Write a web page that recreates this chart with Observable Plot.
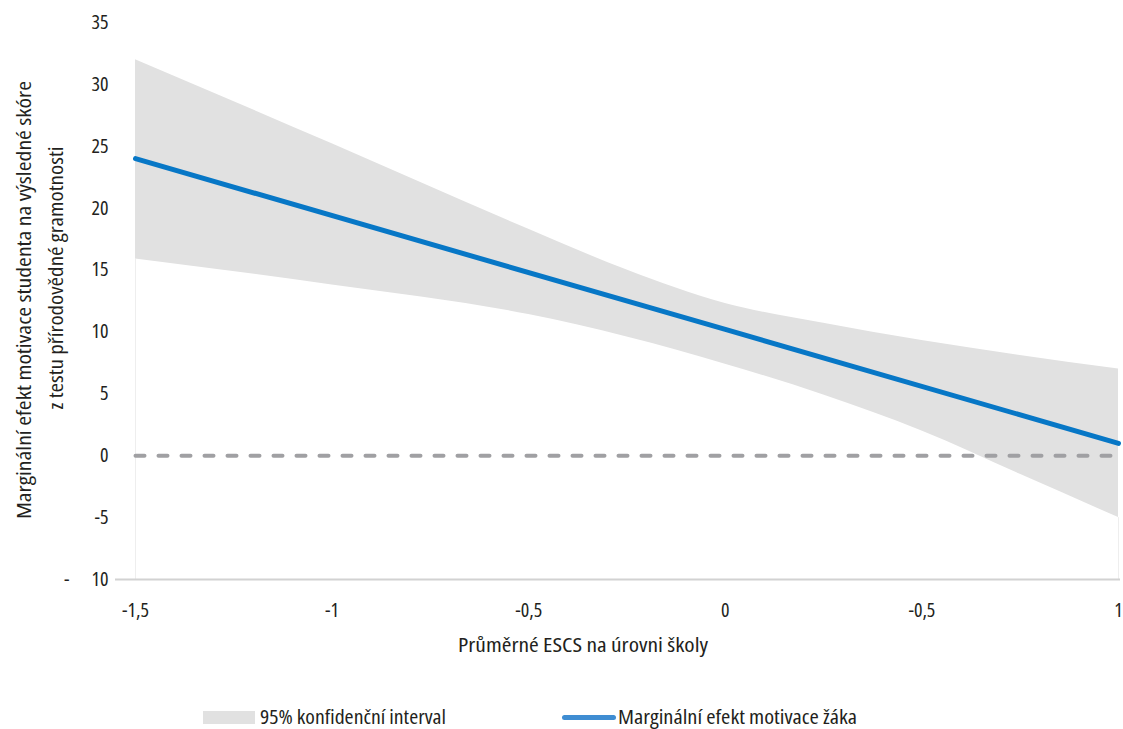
<!DOCTYPE html>
<html>
<head>
<meta charset="utf-8">
<script src="https://cdn.jsdelivr.net/npm/d3@7"></script>
<script src="https://cdn.jsdelivr.net/npm/@observablehq/plot@0.6"></script>
<style>
  html, body { margin: 0; padding: 0; background: #fff; }
  body { width: 1123px; height: 729px; overflow: hidden;
         font-family: "Open Sans", "Roboto", sans-serif; font-stretch: 75%; color: #231f20; }
  #legend { position: relative; height: 39px; font-size: 19px; }
  .item { position: absolute; top: 16px; display: flex; align-items: center; height: 22px; white-space: nowrap; }
  .item span { display: inline-block; transform-origin: 0 50%; }
  .sw { width: 52px; height: 13px; background: #e1e1e1; margin-right: 5px; flex: none; }
  .ln { width: 54px; height: 5px; border-radius: 3px; background: #3f8dd2; margin-right: 2px; flex: none; }
</style>
</head>
<body>
<div id="chart"></div>
<div id="legend">
  <div class="item" style="left:203px"><div class="sw"></div><span id="lg1">95% konfidenční interval</span></div>
  <div class="item" style="left:562px"><div class="ln"></div><span id="lg2">Marginální efekt motivace žáka</span></div>
</div>
<script>
// ---- data ----
const escs = [-1.5, -1, -0.5, -0.25, 0, 0.25, 0.5, 0.75, 1];
const ciUpper = [32.0, 25.2, 18.3, 15.0, 12.3, 10.7, 9.3, 8.1, 7.0];
const ciLower = [15.9, 13.8, 11.4, 9.6, 7.4, 4.9, 2.0, -1.5, -5.0];
const effectX = [-1.5, 0, 1];
const effect = [24.0, 10.2, 1.0];
const zeroX = [-1.5, 1];
const zeroY = [0, 0];
const yTicks = [35, 30, 25, 20, 15, 10, 5, 0, -5, -10];
const yTickLabels = ["35", "30", "25", "20", "15", "10", "5", "0", "-5", "10"];
const xTicks = [-1.5, -1, -0.5, 0, 0.5, 1];
const xTickLabels = ["-1,5", "-1", "-0,5", "0", "-0,5", "1"];
const yLabel1 = "Marginální efekt motivace studenta na výsledné skóre";
const yLabel2 = "z testu přírodovědné gramotnosti";
const xLabel = "Průměrné ESCS na úrovni školy";

const band = escs.map((x, i) => ({x, lo: ciLower[i], hi: ciUpper[i]}));
const line = effectX.map((x, i) => ({x, y: effect[i]}));
const zero = zeroX.map((x, i) => ({x, y: zeroY[i]}));
const edges = [band[0], band[band.length - 1]];

const font = '"Open Sans", "Roboto", sans-serif';

const chart = Plot.plot({
  width: 1123,
  height: 690,
  marginLeft: 115,
  marginRight: 3,
  marginTop: 22,
  marginBottom: 111,
  style: {fontFamily: font, fontSize: "19px", color: "#231f20", background: "#fff", fontStretch: "75%"},
  x: {domain: [-1.5, 1], insetLeft: 20, insetRight: 2},
  y: {domain: [-10, 35]},
  marks: [
    Plot.ruleX(edges, {x: "x", y1: -10, y2: "lo", stroke: "#eeeeee", strokeWidth: 1}),
    Plot.areaY(band, {x: "x", y1: "lo", y2: "hi", fill: "#e1e1e1", curve: "monotone-x"}),
    Plot.ruleY([-10], {stroke: "#d2d2d2", strokeWidth: 2}),
    Plot.lineY(zero, {x: "x", y: "y", stroke: "#a0a0a3", strokeWidth: 4, strokeDasharray: "9,14", strokeLinecap: "round"}),
    Plot.lineY(line, {x: "x", y: "y", stroke: "#0777c6", strokeWidth: 5, strokeLinecap: "round"}),
    Plot.axisY(yTicks, {tickSize: 0, tickPadding: 7, tickFormat: (d, i) => yTickLabels[i], label: null, fontSize: 20}),
    Plot.text(["-"], {y: [-10], frameAnchor: "left", textAnchor: "end", dx: -46, fontSize: 20, fill: "#231f20"}),
    Plot.axisX(xTicks, {tickSize: 0, tickPadding: 23, tickFormat: (d, i) => xTickLabels[i], label: null, fontSize: 20}),
    Plot.text([xLabel], {frameAnchor: "bottom", textAnchor: "middle", dx: -35, dy: 66, lineAnchor: "middle", fontSize: 20, fill: "#231f20"}),
    Plot.text([yLabel1], {frameAnchor: "left", textAnchor: "middle", rotate: -90, dx: -91, dy: -1, lineAnchor: "middle", fontSize: 20, fill: "#231f20"}),
    Plot.text([yLabel2], {frameAnchor: "left", textAnchor: "middle", rotate: -90, dx: -59, dy: -23, lineAnchor: "middle", fontSize: 20, fill: "#231f20"})
  ]
});
document.getElementById("chart").appendChild(chart);

// fit long labels to the condensed widths of the reference
const targets = new Map([[yLabel1, 438], [yLabel2, 263], [xLabel, 250]]);
d3.select(chart).selectAll("text").each(function () {
  const t = this.textContent;
  if (targets.has(t)) {
    d3.select(this).attr("textLength", targets.get(t)).attr("lengthAdjust", "spacingAndGlyphs");
  }
});
[["lg1", 186], ["lg2", 239]].forEach(([id, w]) => {
  const el = document.getElementById(id);
  const cw = el.getBoundingClientRect().width;
  if (cw > 0) el.style.transform = `scaleX(${w / cw})`;
});
</script>
</body>
</html>
